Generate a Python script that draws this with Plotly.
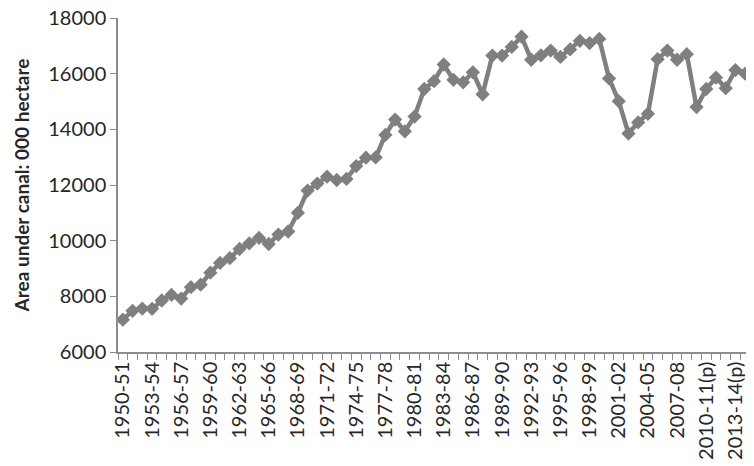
import plotly.graph_objects as go

# Data
years = ['1950-51', '1951-52', '1952-53', '1953-54', '1954-55', '1955-56', '1956-57', '1957-58',
         '1958-59', '1959-60', '1960-61', '1961-62', '1962-63', '1963-64', '1964-65', '1965-66',
         '1966-67', '1967-68', '1968-69', '1969-70', '1970-71', '1971-72', '1972-73', '1973-74',
         '1974-75', '1975-76', '1976-77', '1977-78', '1978-79', '1979-80', '1980-81', '1981-82',
         '1982-83', '1983-84', '1984-85', '1985-86', '1986-87', '1987-88', '1988-89', '1989-90',
         '1990-91', '1991-92', '1992-93', '1993-94', '1994-95', '1995-96', '1996-97', '1997-98',
         '1998-99', '1999-00', '2000-01', '2001-02', '2002-03', '2003-04', '2004-05', '2005-06',
         '2006-07', '2007-08', '2008-09', '2009-10', '2010-11(p)', '2011-12(p)', '2012-13(p)',
         '2013-14(p)', '2014-15(p)']
area = [7160, 7480, 7560, 7550, 7850, 8050, 7920, 8330, 8420, 8850, 9200, 9370, 9700, 9900,
        10100, 9880, 10220, 10330, 11000, 11800, 12050, 12300, 12180, 12220, 12680, 12980,
        12990, 13800, 14350, 13930, 14460, 15450, 15730, 16330, 15780, 15690, 16050, 15260,
        16650, 16650, 16960, 17330, 16500, 16660, 16830, 16600, 16870, 17180, 17100, 17250,
        15830, 15010, 13850, 14250, 14560, 16520, 16830, 16500, 16700, 14800, 15450, 15860,
        15480, 16130, 16000]

pos = list(range(len(years)))
label_pos = pos[::3]
label_txt = years[::3]

grey = '#7f7f7f'
axis_grey = '#8c8c8c'
font = 'Lato, "Open Sans", sans-serif'

fig = go.Figure()
fig.add_trace(go.Scatter(x=pos, y=area, mode='lines+markers',
                         line=dict(color=grey, width=4.5),
                         marker=dict(symbol='diamond', size=11, color=grey),
                         cliponaxis=False, showlegend=False))

# page body has an 8px margin, so the figure is a bit smaller than the window
fig.update_layout(
    width=746, height=458,
    margin=dict(l=110, r=4, t=10, b=114),
    paper_bgcolor='white', plot_bgcolor='white',
    font=dict(family=font, color='#262626'),
)
fig.update_xaxes(range=[-0.5, len(years) - 0.5], tickvals=label_pos, ticktext=label_txt,
                 tickangle=-90, tickfont=dict(size=20), ticks='', ticklen=0,
                 showline=True, linecolor=axis_grey, linewidth=1.5, showgrid=False, zeroline=False,
                 automargin=False, ticklabeloverflow='allow',
                 minor=dict(ticks='outside', ticklen=6, tickcolor=axis_grey, tickwidth=1.2,
                            tick0=-0.5, dtick=1, showgrid=False))
fig.update_yaxes(range=[6000, 18000], dtick=2000, tickformat='d', tickfont=dict(size=20),
                 ticks='outside', ticklen=6, tickcolor=axis_grey, tickwidth=1.2,
                 showline=True, linecolor=axis_grey, linewidth=1.5, showgrid=False, zeroline=False,
                 ticklabeloverflow='allow', automargin='left',
                 title=dict(text='<b>Area under canal: 000 hectare</b>', font=dict(size=19), standoff=14))

fig.write_html("out.html")
